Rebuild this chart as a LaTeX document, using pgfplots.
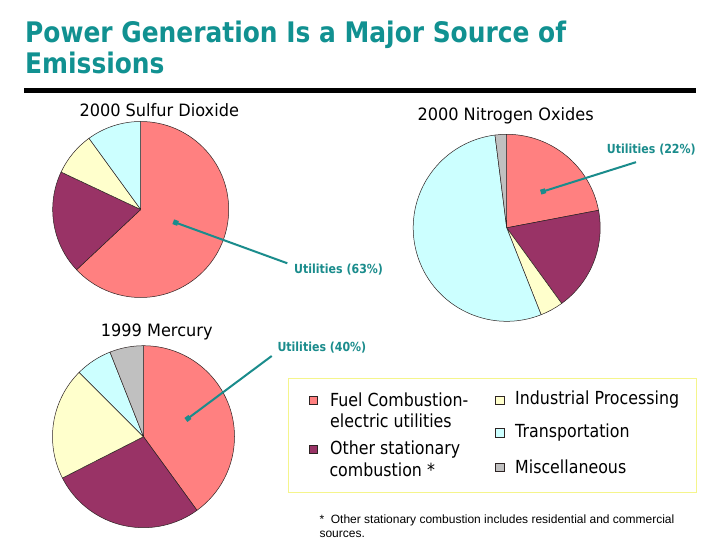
\documentclass[border=0pt]{standalone}
\usepackage{fontspec}
\usepackage{pgfplots}
\usepackage{pgfplotstable}
\pgfplotsset{compat=1.18}
\usetikzlibrary{arrows.meta}

\setmainfont{DejaVu Sans}
\newfontfamily\titlefont[FakeStretch=0.88]{DejaVu Sans}
\newfontfamily\labelfont[FakeStretch=0.88]{DejaVu Sans}
\newfontfamily\headfont[FakeStretch=0.95]{DejaVu Sans}
\newfontfamily\notefont{Liberation Sans}

\definecolor{titleteal}{RGB}{17,145,145}
\definecolor{calloutcol}{RGB}{26,140,140}
\definecolor{utilcol}{RGB}{255,128,128}
\definecolor{othercol}{RGB}{153,51,102}
\definecolor{indcol}{RGB}{255,255,204}
\definecolor{transcol}{RGB}{204,255,255}
\definecolor{misccol}{RGB}{192,192,192}
\definecolor{pieedge}{RGB}{45,35,35}
\definecolor{legendframe}{RGB}{245,245,140}

% Emission shares (percent), clockwise from twelve o'clock
\pgfplotstableread{
source share colour
utilities 63 utilcol
other 19 othercol
industrial 8 indcol
transportation 10 transcol
}\sulfur

\pgfplotstableread{
source share colour
utilities 22 utilcol
other 18 othercol
industrial 4 indcol
transportation 54 transcol
miscellaneous 2 misccol
}\nitrogen

\pgfplotstableread{
source share colour
utilities 40 utilcol
other 27.5 othercol
industrial 20 indcol
transportation 6.5 transcol
miscellaneous 6 misccol
}\mercury

% Draw the wedges of one pie; #1 = table, #2 = radius in pt (one axis unit)
\newcommand{\drawpie}[2]{%
  \pgfplotstablegetrowsof{#1}%
  \pgfmathtruncatemacro{\lastrow}{\pgfplotsretval-1}%
  \def\runningshare{0}%
  \pgfplotsforeachungrouped \r in {0,...,\lastrow}{%
    \pgfplotstablegetelem{\r}{share}\of{#1}\let\sliceshare\pgfplotsretval
    \pgfplotstablegetelem{\r}{colour}\of{#1}\let\slicecolour\pgfplotsretval
    \pgfmathsetmacro{\startangle}{90-3.6*\runningshare}%
    \pgfmathsetmacro{\runningshare}{\runningshare+\sliceshare}%
    \pgfmathsetmacro{\endangle}{90-3.6*\runningshare}%
    \edef\doslice{\noexpand\fill[fill=\slicecolour, draw=pieedge, line width=0.5pt, line join=round]
      (axis cs:0,0) -- ++(\startangle:#2pt)
      arc[start angle=\startangle, end angle=\endangle, radius=#2pt] -- cycle;}%
    \doslice
  }%
}

\pgfplotsset{
  pie/.style={hide axis, clip=false, anchor=center,
    x=#1pt, y=#1pt, xmin=-1, xmax=1, ymin=-1, ymax=1},
}

\tikzset{
  callout/.style={calloutcol, line width=2pt, {Square[length=5pt,width=5pt]}-},
  swatch/.style={draw=pieedge, line width=0.6pt, minimum size=8.5pt, inner sep=0pt, fill=#1},
  legtext/.style={anchor=west, inner sep=0pt, font=\labelfont\fontsize{18}{21}\selectfont},
  head/.style={anchor=west, inner sep=0pt, font=\headfont\fontsize{17}{20}\selectfont},
  calltext/.style={anchor=west, inner sep=0pt, text=calloutcol, font=\labelfont\bfseries\fontsize{12.5}{15}\selectfont},
}

\begin{document}
\begin{tikzpicture}[x=1pt, y=1pt]
  \path[use as bounding box] (0,0) rectangle (720,-540);
  \clip (0,0) rectangle (720,-540);
  \fill[white] (0,0) rectangle (720,-540);

  % Title and rule
  \node[anchor=base west, inner sep=0pt, text=titleteal,
        font=\titlefont\bfseries\fontsize{28.3}{34}\selectfont] at (25,-42.7)
        {Power Generation Is a Major Source of};
  \node[anchor=base west, inner sep=0pt, text=titleteal,
        font=\titlefont\bfseries\fontsize{28.3}{34}\selectfont] at (25,-74)
        {Emissions};
  \fill[black] (24,-88.2) rectangle (696,-93.2);

  % 2000 Sulfur Dioxide
  \begin{axis}[pie=88, at={(140.7pt,-209.5pt)}]
    \drawpie{\sulfur}{88}
    \draw[callout] (axis cs:0.370,-0.139) -- (axis cs:1.666,-0.611);
  \end{axis}
  \node[head] at (79.3,-110) {2000 Sulfur Dioxide};
  \node[calltext] at (294,-269.3) {Utilities (63\%)};

  % 2000 Nitrogen Oxides
  \begin{axis}[pie=93.5, at={(506.7pt,-227.8pt)}]
    \drawpie{\nitrogen}{93.5}
    \draw[callout] (axis cs:0.364,0.381) -- (axis cs:1.383,0.702);
  \end{axis}
  \node[head] at (417.3,-115.7) {2000 Nitrogen Oxides};
  \node[calltext] at (606.7,-149.3) {Utilities (22\%)};

  % 1999 Mercury
  \begin{axis}[pie=91, at={(143.5pt,-436.7pt)}]
    \drawpie{\mercury}{91}
    \draw[callout] (axis cs:0.466,0.184) -- (axis cs:1.409,0.887);
  \end{axis}
  \node[head] at (100.7,-331.7) {1999 Mercury};
  \node[calltext] at (277.3,-347.3) {Utilities (40\%)};

  % Legend
  \draw[legendframe, line width=1.5pt] (288.3,-378.3) rectangle (696.7,-492.7);
  \node[swatch=utilcol]   at (313.5,-400.5) {};
  \node[swatch=othercol]  at (313.5,-449.5) {};
  \node[swatch=indcol]    at (500,-400.5) {};
  \node[swatch=transcol]  at (500,-432.8) {};
  \node[swatch=misccol]   at (500,-467.2) {};
  \node[legtext] at (330,-400)   {Fuel Combustion-};
  \node[legtext] at (330,-420.7) {electric utilities};
  \node[legtext] at (330,-449.3) {Other stationary};
  \node[legtext] at (329.3,-470) {combustion *};
  \node[legtext] at (515,-400)   {Industrial Processing};
  \node[legtext] at (515,-432.7) {Transportation};
  \node[legtext] at (515,-466.7) {Miscellaneous};

  % Footnote
  \node[anchor=west, inner sep=0pt, font=\notefont\fontsize{12}{15}\selectfont] at (319.3,-520.5)
    {*\ \ Other stationary combustion includes residential and commercial};
  \node[anchor=west, inner sep=0pt, font=\notefont\fontsize{12}{15}\selectfont] at (319.3,-534.5)
    {sources.};
\end{tikzpicture}
\end{document}
